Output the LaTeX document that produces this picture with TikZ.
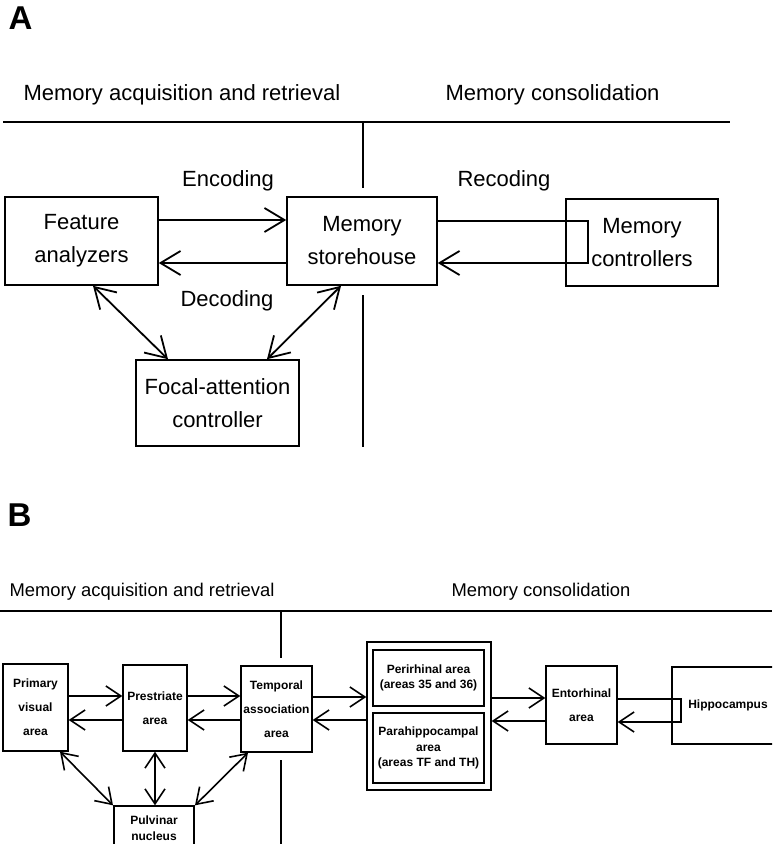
\documentclass[tikz,border=0pt]{standalone}
\usepackage{fontspec}
\setmainfont{Liberation Sans}
\usetikzlibrary{arrows.meta}

\begin{document}
\begin{tikzpicture}[x=1pt,y=-1pt,
  panel/.style={anchor=base west, font=\bfseries\fontsize{33}{33}\selectfont},
  headA/.style={anchor=base west, font=\fontsize{22}{26}\selectfont},
  headB/.style={anchor=base west, font=\fontsize{18.4}{22}\selectfont},
  lblA/.style={anchor=base, font=\fontsize{22}{26}\selectfont},
  boxA/.style={draw, line width=1.6pt, inner sep=0pt, align=center,
               font=\fontsize{22}{33}\selectfont},
  boxB/.style={draw, line width=1.4pt, inner sep=0pt, align=center,
               font=\bfseries\fontsize{12}{24}\selectfont},
  boxBt/.style={boxB, font=\bfseries\fontsize{12}{15.5}\selectfont},
  rule/.style={line width=1.6pt},
  arrA/.style={line width=1.8pt, -{Straight Barb[length=20pt,width=24pt]}},
  darrA/.style={line width=1.8pt,
    {Straight Barb[length=20pt,width=24pt]}-{Straight Barb[length=20pt,width=24pt]}},
  arrB/.style={line width=1.6pt, -{Straight Barb[length=15pt,width=20pt]}},
  darrB/.style={line width=1.6pt,
    {Straight Barb[length=15pt,width=20pt]}-{Straight Barb[length=15pt,width=20pt]}},
]
\clip (0,0) rectangle (772,844);
\fill[white] (0,0) rectangle (772,844);

% ---------------- Panel A ----------------
\node[panel] (labA) at (5,29) {A};
\node[headA] (hAl) at (20,100) {Memory acquisition and retrieval};
\node[headA] (hAr) at (442,100) {Memory consolidation};
\draw[rule] (3,122) -- (730,122);

\node[boxA, minimum width=153pt, minimum height=88pt] (feat) at (81.5,241) {Feature\\analyzers};
\node[boxA, minimum width=150pt, minimum height=88pt] (store) at (362,241) {Memory\\storehouse};
\node[boxA, minimum width=152pt, minimum height=87pt] (ctrl) at (642,242.5) {Memory\\controllers};
\node[boxA, minimum width=163pt, minimum height=86pt] (focal) at (217.5,403) {Focal-attention\\controller};

\draw[rule] (363,122) -- (363,188);
\draw[rule] (363,295) -- (363,447);

\node[lblA] (enc) at (228,186) {Encoding};
\node[lblA] (dec) at (227,306) {Decoding};
\node[lblA] (rec) at (504,186) {Recoding};

\draw[arrA] ([yshift=21pt]feat.east) -- ([yshift=21pt]feat.east -| store.west);
\draw[arrA] ([yshift=-22pt]feat.east -| store.west) -- ([yshift=-22pt]feat.east);

\coordinate (rc1) at (588,221);
\coordinate (rc2) at (588,263);
\draw[arrA] (store.east |- rc1) -- (rc1) -- (rc2) -- (store.east |- rc2);

\draw[darrA] ([xshift=11.5pt]feat.south) -- ([xshift=-49.5pt]focal.north);
\draw[darrA] ([xshift=-21pt]store.south) -- ([xshift=49.5pt]focal.north);

% ---------------- Panel B ----------------
\node[panel] (labB) at (4,526) {B};
\node[headB] (hBl) at (6,596) {Memory acquisition and retrieval};
\node[headB] (hBr) at (448,596) {Memory consolidation};
\draw[rule] (0,611) -- (772,611);
\draw[line width=1.4pt] (281,611) -- (281,658);
\draw[line width=1.4pt] (281,760) -- (281,844);

\node[boxB, minimum width=65pt, minimum height=87pt] (prim) at (35.5,707.5) {Primary\\visual\\area};
\node[boxB, minimum width=64pt, minimum height=86pt] (pres) at (155,708) {Prestriate\\area};
\node[boxB, minimum width=71pt, minimum height=86pt] (temp) at (276.5,709) {Temporal\\association\\area};
\node[boxBt, minimum width=80pt, minimum height=44pt] (pulv) at (154,828) {Pulvinar\\nucleus};

\node[draw, line width=1.4pt, minimum width=124pt, minimum height=148pt, inner sep=0pt] (outer) at (429,716) {};
\node[boxBt, minimum width=111pt, minimum height=56pt] (peri) at (428.5,678) {Perirhinal area\\(areas 35 and 36)};
\node[boxBt, minimum width=111pt, minimum height=70pt] (para) at (428.5,748) {Parahippocampal\\area\\(areas TF and TH)};

\node[boxB, minimum width=71pt, minimum height=78pt] (ento) at (581.5,705) {Entorhinal\\area};
\node[boxB, minimum width=112pt, minimum height=77pt] (hipp) at (728,705.5) {Hippocampus};

\draw[arrB] ([yshift=11.5pt]prim.east) -- ([yshift=11.5pt]prim.east -| pres.west);
\draw[arrB] ([yshift=-12.5pt]prim.east -| pres.west) -- ([yshift=-12.5pt]prim.east);
\draw[arrB] ([yshift=12pt]pres.east) -- ([yshift=12pt]pres.east -| temp.west);
\draw[arrB] ([yshift=-12pt]pres.east -| temp.west) -- ([yshift=-12pt]pres.east);
\draw[arrB] ([yshift=12pt]temp.east) -- ([yshift=12pt]temp.east -| outer.west);
\draw[arrB] ([yshift=-11pt]temp.east -| outer.west) -- ([yshift=-11pt]temp.east);
\draw[arrB] ([yshift=18pt]outer.east) -- ([yshift=18pt]outer.east -| ento.west);
\draw[arrB] ([yshift=-5pt]outer.east -| ento.west) -- ([yshift=-5pt]outer.east);

\coordinate (hb1) at (681,699);
\coordinate (hb2) at (681,722);
\draw[arrB] (ento.east |- hb1) -- (hb1) -- (hb2) -- (ento.east |- hb2);

\draw[darrB] ([xshift=24.5pt]prim.south) -- ([xshift=-41pt]pulv.north);
\draw[darrB] (pres.south) -- (pres.south |- pulv.north);
\draw[darrB] ([xshift=-28.5pt]temp.south) -- ([xshift=41pt]pulv.north);
\end{tikzpicture}
\end{document}
